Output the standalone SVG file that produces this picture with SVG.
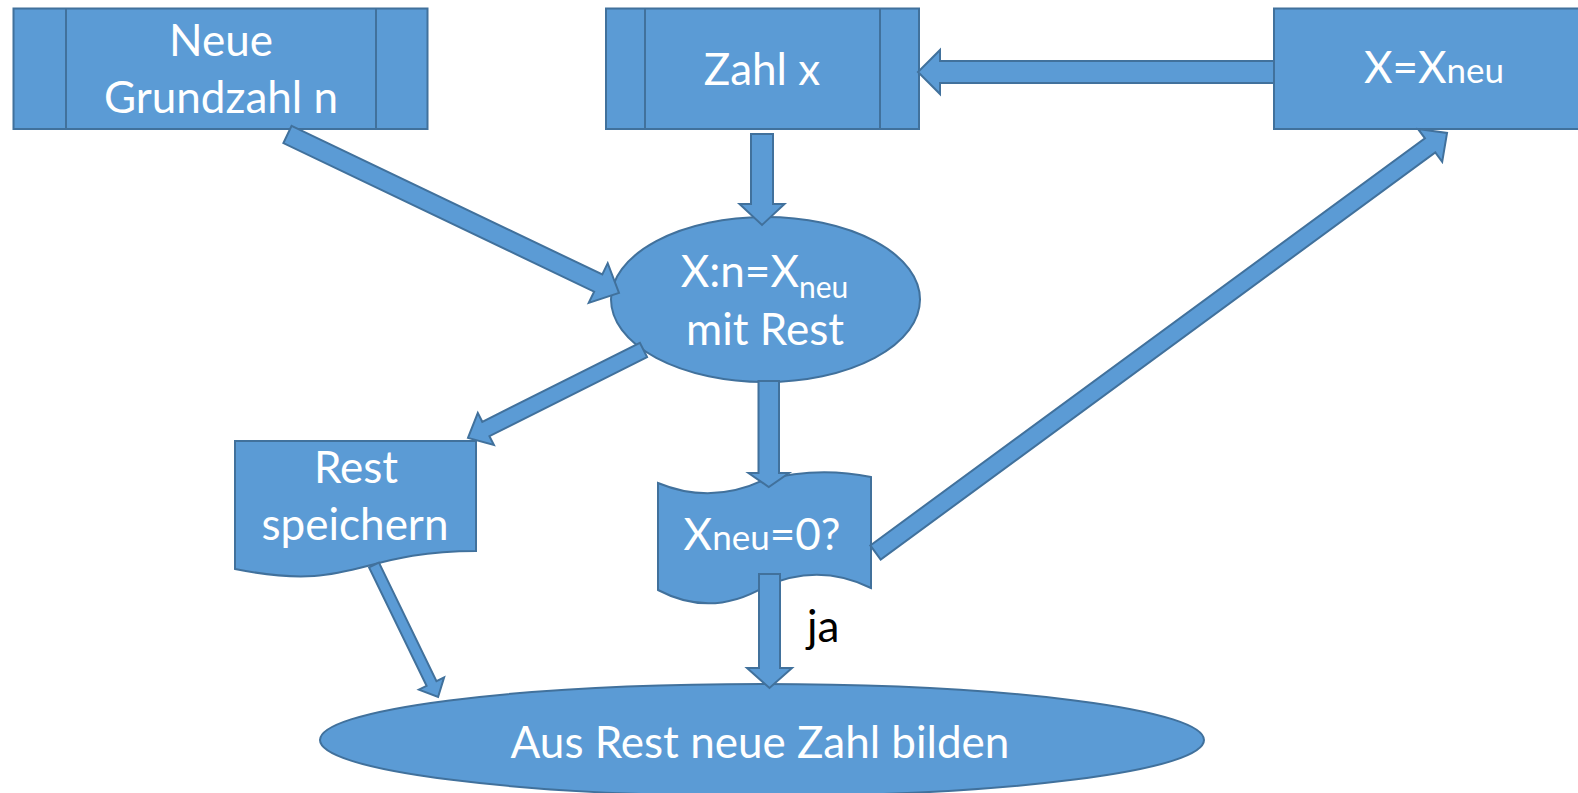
<svg xmlns="http://www.w3.org/2000/svg" width="1578" height="793" viewBox="0 0 1578 793">
<style>
.n{fill:#5B9BD5;stroke:#41719C;stroke-width:2}
.l{fill:none;stroke:#41719C;stroke-width:2}
.a{fill:#5B9BD5;stroke:#41719C;stroke-width:2;stroke-linejoin:miter}
.t{font-family:Lato,"Open Sans",sans-serif;font-size:44px;fill:#FFFFFF;text-anchor:middle}
.s{font-size:35px}
.sub{font-size:30px}
.k{font-family:Lato,"Open Sans",sans-serif;font-size:44px;fill:#000000}
</style>
<rect width="1578" height="793" fill="#FFFFFF"/>
<g id="node-grundzahl">
<rect class="n" x="13.5" y="8.5" width="414" height="120.5"/>
<line class="l" x1="66" y1="8.5" x2="66" y2="129"/>
<line class="l" x1="376" y1="8.5" x2="376" y2="129"/>
<text class="t" x="221" y="56">Neue</text>
<text class="t" x="221" y="113">Grundzahl n</text>
</g>
<g id="node-zahlx">
<rect class="n" x="606" y="8.5" width="313" height="120.5"/>
<line class="l" x1="645" y1="8.5" x2="645" y2="129"/>
<line class="l" x1="880" y1="8.5" x2="880" y2="129"/>
<text class="t" x="762" y="85">Zahl x</text>
</g>
<g id="node-xneu">
<rect class="n" x="1274" y="8.5" width="312" height="120.5"/>
<text class="t" x="1434" y="83">X=X<tspan class="s">neu</tspan></text>
</g>
<g id="node-division">
<ellipse class="n" cx="765.5" cy="299.5" rx="154.5" ry="82.5"/>
<text class="t" x="764.5" y="287">X:n=X<tspan class="sub" dy="11">neu</tspan></text>
<text class="t" x="765" y="345">mit Rest</text>
</g>
<g id="node-rest">
<path class="n" d="M235,441 H476 V551 C355.5,551 355.5,593 235,569 Z"/>
<text class="t" x="356" y="483">Rest</text>
<text class="t" x="355" y="540">speichern</text>
</g>
<g id="node-check">
<path class="n" d="M658,483 Q711,505 764,480 Q818,466 871,477 L871,588 Q818,562 764,587 Q711,618 658,590 Z"/>
<text class="t" x="762" y="550">X<tspan class="s">neu</tspan>=0?</text>
</g>
<g id="node-result">
<ellipse class="n" cx="762" cy="740" rx="442" ry="56"/>
<text class="t" x="760" y="758">Aus Rest neue Zahl bilden</text>
</g>
<g id="connectors">
<polygon class="a" transform="translate(287.5,134.5) rotate(25.55)" points="0,-9.5 344.4,-9.5 344.4,-22 367.4,0 344.4,22 344.4,9.5 0,9.5"/>
<polygon class="a" points="751,134 773,134 773,204 784.5,204 762,225 739.5,204 751,204"/>
<polygon class="a" points="1274,61 940,61 940,50 918,72 940,94 940,83 1274,83"/>
<polygon class="a" transform="translate(643.5,350) rotate(153.4)" points="0,-8 176.3,-8 176.3,-18 196.3,0 176.3,18 176.3,8 0,8"/>
<polygon class="a" transform="translate(374,565) rotate(64.1)" points="0,-5.5 131.7,-5.5 131.7,-14 146.7,0 131.7,14 131.7,5.5 0,5.5"/>
<polygon class="a" points="758.5,381 779,381 779,473 789,473 768.75,487 748.5,473 758.5,473"/>
<polygon class="a" points="759,574 780,574 780,668 792,668 769.5,688 747,668 759,668"/>
<polygon class="a" transform="translate(875.5,552.5) rotate(-36.28)" points="0,-8.75 688,-8.75 688,-20.4 709,0 688,20.4 688,8.75 0,8.75"/>
<text class="k" x="807" y="642">ja</text>
</g>
</svg>
